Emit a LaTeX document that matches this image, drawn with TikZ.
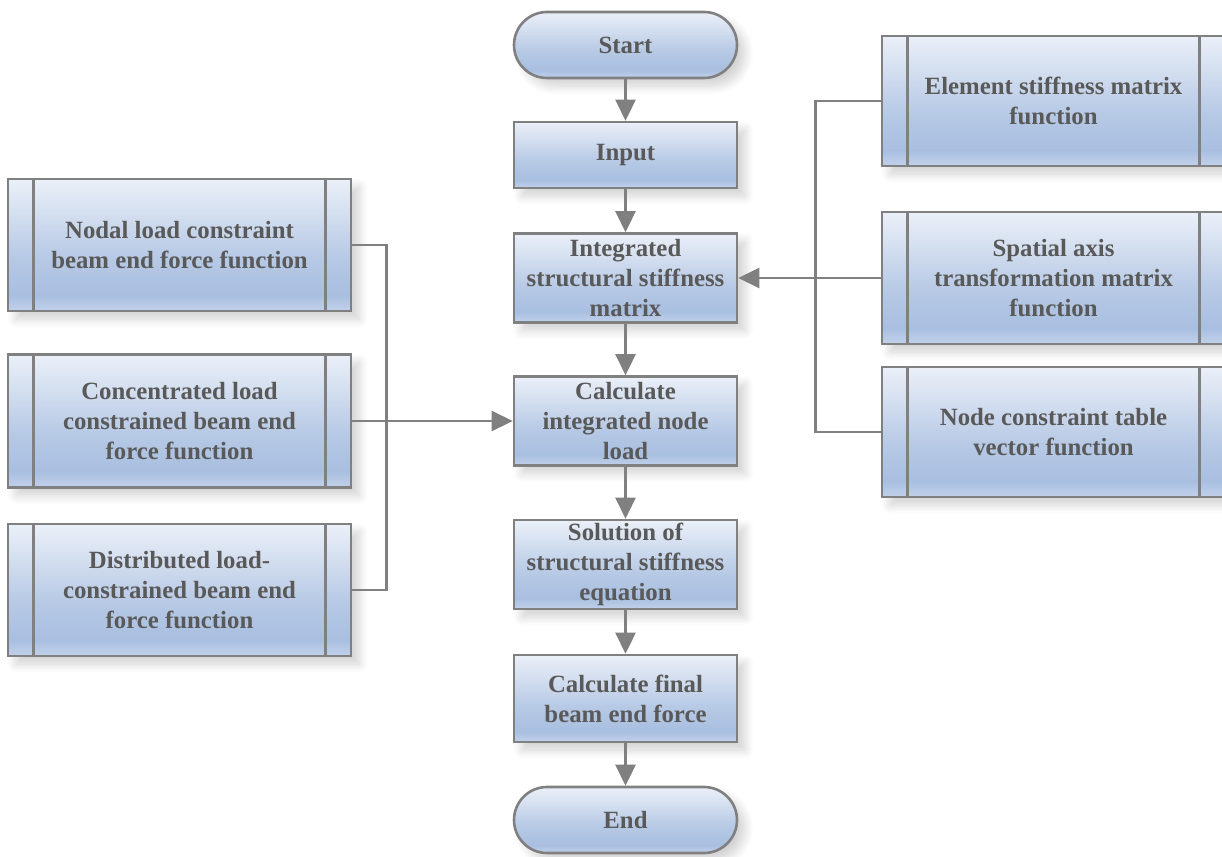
\documentclass[tikz,border=0pt]{standalone}
\usepackage{fontspec}
\setmainfont{Liberation Serif}
\usetikzlibrary{arrows.meta,shadows.blur,calc}
\definecolor{gT}{HTML}{EBF0F8}
\definecolor{gM}{HTML}{A9BFE0}
\definecolor{gB}{HTML}{C2D1EA}
\definecolor{bord}{HTML}{808080}
\definecolor{txt}{HTML}{595959}
\pgfdeclareverticalshading{boxgrad}{100bp}{color(0bp)=(gB); color(25bp)=(gB); color(31bp)=(gM); color(45bp)=(gM!80!gT); color(75bp)=(gT); color(100bp)=(gT)}
\tikzset{
  base/.style={draw=bord, line width=2.6pt, shading=boxgrad, align=center,
    text=txt, font=\bfseries\fontsize{24.8}{30}\selectfont, inner sep=0pt,
    blur shadow={shadow xshift=8pt, shadow yshift=-8pt, shadow opacity=18, shadow blur radius=9pt, shadow blur steps=8}},
  proc/.style={base, rectangle, minimum width=223pt},
  term/.style={base, rectangle, rounded corners=33pt, minimum width=223pt, minimum height=66pt},
  sub/.style={base, rectangle, minimum width=343pt},
  conn/.style={draw=bord, line width=2.6pt},
  arr/.style={conn, -{Triangle[length=21pt,width=20pt]}},
}
\begin{document}
\begin{tikzpicture}[x=1pt,y=-1pt]
\useasboundingbox (0,0) rectangle (1222,856);
\clip (0,0) rectangle (1222,856);
% centre column
\node[term] (start) at (625.5,45) {Start};
\node[proc, minimum height=66pt] (input) at (625.5,155) {Input};
\node[proc, minimum height=89pt] (integ) at (625.5,278) {Integrated\\structural stiffness\\matrix};
\node[proc, minimum height=89pt] (calc) at (625.5,421) {Calculate\\integrated node\\load};
\node[proc, minimum height=89pt] (sol) at (625.5,564.5) {Solution of\\structural stiffness\\equation};
\node[proc, minimum height=87pt] (fin) at (625.5,698.5) {Calculate final\\beam end force};
\node[term] (end) at (625.5,820) {End};
% left subroutines
\node[sub, minimum height=132pt] (l1) at (179.5,245) {Nodal load constraint\\beam end force function};
\node[sub, minimum height=133pt] (l2) at (179.5,421) {Concentrated load\\constrained beam end\\force function};
\node[sub, minimum height=132pt] (l3) at (179.5,590) {Distributed load-\\constrained beam end\\force function};
% right subroutines
\node[sub, minimum height=130pt] (r1) at (1053.5,101) {Element stiffness matrix\\function};
\node[sub, minimum height=132pt] (r2) at (1053.5,278) {Spatial axis\\transformation matrix\\function};
\node[sub, minimum height=130pt] (r3) at (1053.5,432) {Node constraint table\\vector function};
\foreach \n in {l1,l2,l3,r1,r2,r3}{
  \draw[conn] ([xshift=27pt]\n.north west) -- ([xshift=27pt]\n.south west);
  \draw[conn] ([xshift=-27pt]\n.north east) -- ([xshift=-27pt]\n.south east);
}
% main flow
\draw[arr] (start) -- (input);
\draw[arr] (input) -- (integ);
\draw[arr] (integ) -- (calc);
\draw[arr] (calc) -- (sol);
\draw[arr] (sol) -- (fin);
\draw[arr] (fin) -- (end);
% left bus
\draw[conn] (l1.east) -- ++(34,0) |- (l3.east);
\draw[arr] (l2.east) -- (calc.west);
% right bus
\draw[conn] (r1.west) -- ++(-65,0) |- (r3.west);
\draw[arr] (r2.west) -- (integ.east);
\end{tikzpicture}
\end{document}
